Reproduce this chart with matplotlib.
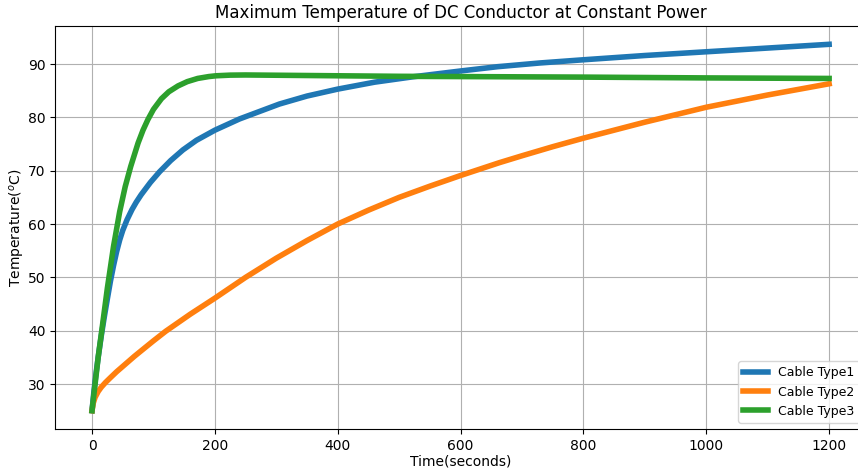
import matplotlib
matplotlib.use("Agg")
import matplotlib.pyplot as plt

# Cable Type1 (blue)
t1 = [0, 3, 6, 10, 15, 20, 25, 30, 35, 40, 45, 50, 57, 65, 72, 80, 95, 110, 128, 148, 170,
      200, 240, 305, 350, 400, 460, 522, 600, 660, 729, 800, 900, 1000, 1100, 1200]
v1 = [25, 28.5, 31.5, 35, 39, 42.6, 46, 49.3, 52.2, 54.8, 57, 58.8, 60.8, 62.7, 64.1, 65.5,
      67.8, 69.8, 71.9, 73.9, 75.7, 77.6, 79.7, 82.5, 84.0, 85.3, 86.6, 87.6, 88.7, 89.5,
      90.2, 90.8, 91.6, 92.3, 93.0, 93.7]

# Cable Type2 (orange)
t2 = [0, 2, 5, 10, 15, 22, 30, 40, 55, 69, 85, 100, 120, 140, 160, 180, 200, 250, 300,
      350, 400, 450, 500, 550, 600, 663, 700, 750, 800, 900, 1000, 1100, 1200]
v2 = [25, 26.4, 27.5, 28.6, 29.4, 30.3, 31.2, 32.3, 33.8, 35.2, 36.7, 38.1, 39.9, 41.5,
      43.1, 44.6, 46.1, 50.0, 53.6, 56.9, 60.0, 62.6, 65.0, 67.1, 69.1, 71.5, 72.8, 74.5,
      76.1, 79.1, 81.9, 84.2, 86.3]

# Cable Type3 (green)
t3 = [0, 5, 10, 17, 25, 35, 45, 54, 63, 75, 83, 91, 100, 113, 125, 140, 155, 172, 190,
      202, 225, 250, 300, 400, 500, 600, 800, 1000, 1200]
v3 = [25, 30, 35, 41, 48, 55.8, 62.3, 67, 70.8, 75.2, 77.6, 79.6, 81.5, 83.5, 84.8, 85.9,
      86.7, 87.3, 87.65, 87.8, 87.92, 87.95, 87.9, 87.8, 87.7, 87.65, 87.55, 87.4, 87.3]

labels = ["Cable Type1", "Cable Type2", "Cable Type3"]

fig = plt.figure(figsize=(8.58, 4.70), dpi=100)
ax = fig.add_axes([0.0643, 0.0872, 0.945, 0.8575])
ax.plot(t1, v1, color="#1f77b4", lw=4, label=labels[0])
ax.plot(t2, v2, color="#ff7f0e", lw=4, label=labels[1])
ax.plot(t3, v3, color="#2ca02c", lw=4, label=labels[2])
ax.grid(True)
ax.set_title("Maximum Temperature of DC Conductor at Constant Power")
ax.set_xlabel("Time(seconds)", labelpad=1)
ax.set_ylabel("Temperature($^o$C)", labelpad=0.5)
ax.legend(loc="lower right", fontsize=9)
fig.savefig("out.png", dpi=100)
